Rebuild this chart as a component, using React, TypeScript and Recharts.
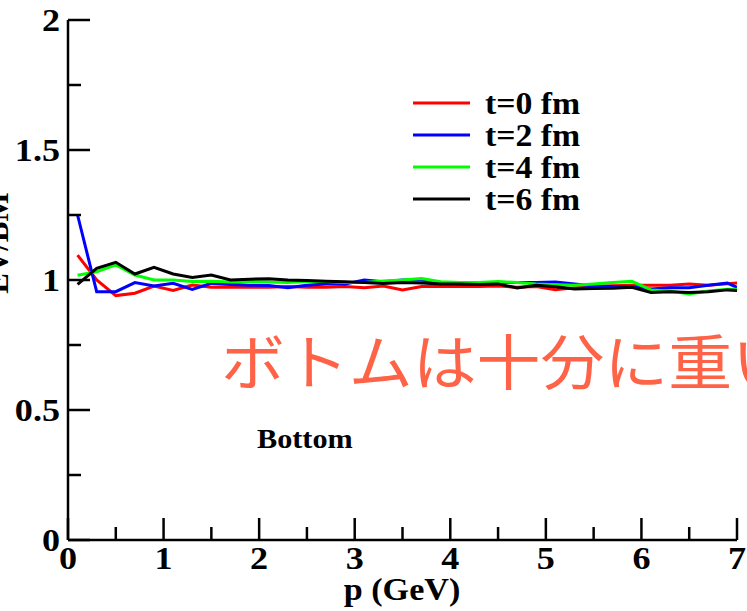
import React from 'react';
import { LineChart, Line, XAxis, YAxis, Legend } from 'recharts';

// p (GeV) sampling points
const momenta = [
  0.1, 0.3, 0.5, 0.7, 0.9, 1.1, 1.3, 1.5, 1.7, 1.9, 2.1, 2.3, 2.5, 2.7, 2.9, 3.1, 3.3, 3.5,
  3.7, 3.9, 4.1, 4.3, 4.5, 4.7, 4.9, 5.1, 5.3, 5.5, 5.7, 5.9, 6.1, 6.3, 6.5, 6.7, 6.9, 7.1,
];

// EV/BM ratio per time slice
const ratioT0 = [
  1.096, 1.0, 0.94, 0.949, 0.977, 0.96, 0.981, 0.972, 0.972, 0.972, 0.972, 0.975, 0.972, 0.972,
  0.975, 0.97, 0.977, 0.962, 0.975, 0.975, 0.975, 0.975, 0.977, 0.972, 0.975, 0.963, 0.97, 0.975,
  0.978, 0.98, 0.98, 0.98, 0.985, 0.98, 0.986, 0.99,
];
const ratioT2 = [
  1.25, 0.955, 0.955, 0.99, 0.977, 0.987, 0.964, 0.987, 0.983, 0.98, 0.979, 0.97, 0.98, 0.985,
  0.985, 1.0, 0.993, 1.0, 1.0, 0.99, 0.985, 0.985, 0.99, 0.99, 0.99, 0.992, 0.985, 0.977, 0.975,
  0.973, 0.965, 0.97, 0.97, 0.98, 0.988, 0.955,
];
const ratioT4 = [
  1.018, 1.032, 1.058, 1.019, 1.0, 1.0, 0.994, 0.995, 0.992, 0.995, 0.992, 0.99, 0.995, 0.994,
  0.99, 0.99, 0.996, 1.0, 1.006, 0.993, 0.99, 0.99, 0.994, 0.99, 0.985, 0.982, 0.98, 0.985, 0.99,
  0.995, 0.962, 0.958, 0.946, 0.958, 0.964, 0.965,
];
const ratioT6 = [
  0.983, 1.045, 1.068, 1.023, 1.049, 1.023, 1.01, 1.019, 1.0, 1.003, 1.005, 1.0, 0.998, 0.995,
  0.993, 0.99, 0.987, 0.99, 0.988, 0.985, 0.985, 0.983, 0.985, 0.969, 0.98, 0.974, 0.965, 0.967,
  0.968, 0.972, 0.952, 0.955, 0.952, 0.955, 0.962, 0.958,
];

const seriesKeys = ['t0', 't2', 't4', 't6'];
const seriesNames = ['t=0 fm', 't=2 fm', 't=4 fm', 't=6 fm'];
const seriesColors = ['#ff0000', '#0000ff', '#00ff00', '#000000'];

const xTicks = [0, 0.5, 1, 1.5, 2, 2.5, 3, 3.5, 4, 4.5, 5, 5.5, 6, 6.5, 7];
const yTicks = [0, 0.25, 0.5, 0.75, 1, 1.25, 1.5, 1.75, 2];

const chartData = momenta.map((p, i) => ({
  p,
  t0: ratioT0[i],
  t2: ratioT2[i],
  t4: ratioT4[i],
  t6: ratioT6[i],
}));

const FONT = "'Liberation Serif', 'Times New Roman', serif";
const MAJOR = 22;
const MINOR = 13;

function Txt({ x, y, anchor = 'start', size = 32, stretch = 1.13, children }: any) {
  return (
    <text
      transform={`translate(${x},${y}) scale(${stretch},1)`}
      textAnchor={anchor}
      fontFamily={FONT}
      fontWeight="bold"
      fontSize={size}
      fill="#000"
    >
      {children}
    </text>
  );
}

const BottomTick = ({ x, y, payload }: any) => {
  const major = payload.value % 1 === 0;
  return (
    <g>
      <line x1={x} x2={x} y1={y} y2={y - (major ? MAJOR : MINOR)} stroke="#000" strokeWidth={2.5} />
      {major && <Txt x={x} y={y + 29} anchor="middle">{payload.value}</Txt>}
    </g>
  );
};

const TopTick = ({ x, y, payload }: any) => {
  const major = payload.value % 1 === 0;
  return <line x1={x} x2={x} y1={y} y2={y + (major ? MAJOR : MINOR)} stroke="#000" strokeWidth={2.5} />;
};

const LeftTick = ({ x, y, payload }: any) => {
  const major = payload.value % 0.5 === 0;
  return (
    <g>
      <line x1={x} x2={x + (major ? MAJOR : MINOR)} y1={y} y2={y} stroke="#000" strokeWidth={2.5} />
      {major && <Txt x={x - 8} y={y + 11} anchor="end">{payload.value}</Txt>}
    </g>
  );
};

const RightTick = ({ x, y, payload }: any) => {
  const major = payload.value % 0.5 === 0;
  return <line x1={x} x2={x - (major ? MAJOR : MINOR)} y1={y} y2={y} stroke="#000" strokeWidth={2.5} />;
};

const LegendBox = ({ payload }: any) => (
  <svg width={200} height={135}>
    {(payload || []).map((item: any, i: number) => (
      <g key={item.value}>
        <line x1={8} x2={65} y1={19 + i * 32} y2={19 + i * 32} stroke={item.color} strokeWidth={3} />
        <Txt x={80} y={30 + i * 32} size={31} stretch={1.09}>{item.value}</Txt>
      </g>
    ))}
  </svg>
);

const axisLine = { stroke: '#000', strokeWidth: 2.5 };

export default function App() {
  return (
    <div style={{ position: 'absolute', left: 0, top: 0, background: '#fff' }}>
      <LineChart width={747} height={611} data={chartData} margin={{ top: 20, right: 10, left: 0, bottom: 0 }}>
        <XAxis
          dataKey="p"
          type="number"
          domain={[0, 7]}
          ticks={xTicks}
          interval={0}
          allowDataOverflow
          height={71}
          tickSize={0}
          tickMargin={0}
          tickLine={false}
          axisLine={axisLine}
          tick={BottomTick}
        />
        <XAxis
          xAxisId="top"
          orientation="top"
          type="number"
          domain={[0, 7]}
          ticks={xTicks}
          interval={0}
          height={0}
          tickSize={0}
          tickMargin={0}
          tickLine={false}
          axisLine={axisLine}
          tick={TopTick}
        />
        <YAxis
          type="number"
          domain={[0, 2]}
          ticks={yTicks}
          interval={0}
          allowDataOverflow
          width={68}
          tickSize={0}
          tickMargin={0}
          tickLine={false}
          axisLine={axisLine}
          tick={LeftTick}
        />
        <YAxis
          yAxisId="right"
          orientation="right"
          type="number"
          domain={[0, 2]}
          ticks={yTicks}
          interval={0}
          width={0}
          tickSize={0}
          tickMargin={0}
          tickLine={false}
          axisLine={axisLine}
          tick={RightTick}
        />
        {seriesKeys.map((k, i) => (
          <Line
            key={k}
            dataKey={k}
            name={seriesNames[i]}
            type="linear"
            stroke={seriesColors[i]}
            strokeWidth={3}
            dot={false}
            activeDot={false}
            isAnimationActive={false}
          />
        ))}
        <Legend
          layout="vertical"
          align="center"
          verticalAlign="middle"
          wrapperStyle={{ left: 405, top: 84, width: 200 }}
          content={LegendBox}
        />
        <Txt x={402} y={600} anchor="middle" size={31} stretch={1.1}>p (GeV)</Txt>
        <text
          transform="translate(8,243) rotate(-90)"
          textAnchor="middle"
          fontFamily={FONT}
          fontWeight="bold"
          fontSize={31}
        >
          EV/BM
        </text>
        <Txt x={257} y={448} size={27} stretch={1.12}>Bottom</Txt>
        <text
          transform="translate(221,385) scale(1.065,1)"
          fontFamily="'Noto Sans CJK JP', sans-serif"
          fontSize={60}
          fill="#ff6347"
        >
          ボトムは十分に重い
        </text>
      </LineChart>
    </div>
  );
}
